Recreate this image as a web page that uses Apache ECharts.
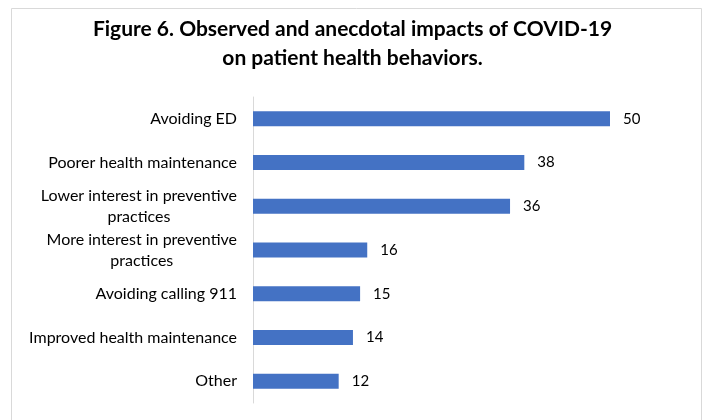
<!DOCTYPE html>
<html>
<head>
<meta charset="utf-8">
<script src="https://cdn.jsdelivr.net/npm/echarts@6/dist/echarts.min.js"></script>
<style>html,body{margin:0;padding:0;background:#fff;}#c{width:705px;height:420px;}</style>
</head>
<body>
<div id="c"></div>
<script>
var categories = ["Avoiding ED", "Poorer health maintenance", "Lower interest in preventive\npractices", "More interest in preventive\npractices", "Avoiding calling 911", "Improved health maintenance", "Other"];
var values = [50, 38, 36, 16, 15, 14, 12];
var titleText = "Figure 6. Observed and anecdotal impacts of COVID-19\non patient health behaviors.";

var chart = echarts.init(document.getElementById('c'));
chart.setOption({
  animation: false,
  backgroundColor: '#fff',
  graphic: [{
    type: 'rect', shape: {x: 11.5, y: 8.5, width: 690, height: 430},
    style: {fill: 'none', stroke: '#d9d9d9', lineWidth: 1}, silent: true
  }],
  title: {
    text: titleText, left: 'center', top: 10,
    textStyle: {fontFamily: 'Lato', fontWeight: 'bold', fontSize: 21, lineHeight: 29, color: '#000'}
  },
  grid: {left: 253, top: 97, width: 357, height: 306},
  xAxis: {type: 'value', min: 0, max: 50, show: false},
  yAxis: {
    type: 'category', data: categories, inverse: true,
    axisLine: {show: true, lineStyle: {color: '#d9d9d9', width: 1}},
    axisTick: {show: false},
    axisLabel: {
      margin: 16, fontFamily: 'Lato', fontSize: 16, color: '#000', lineHeight: 21,
      formatter: function (v) { return v.split('\n').map(function (s) { return '{a|' + s + '}'; }).join('\n'); },
      rich: {a: {align: 'center', fontFamily: 'Lato', fontSize: 16, color: '#000', lineHeight: 21}}
    }
  },
  series: [{
    type: 'bar', data: values, barWidth: 15,
    itemStyle: {color: '#4472c4'},
    label: {show: true, position: 'right', distance: 13, fontFamily: 'Lato', fontSize: 15, color: '#000'}
  }]
});
</script>
</body>
</html>
